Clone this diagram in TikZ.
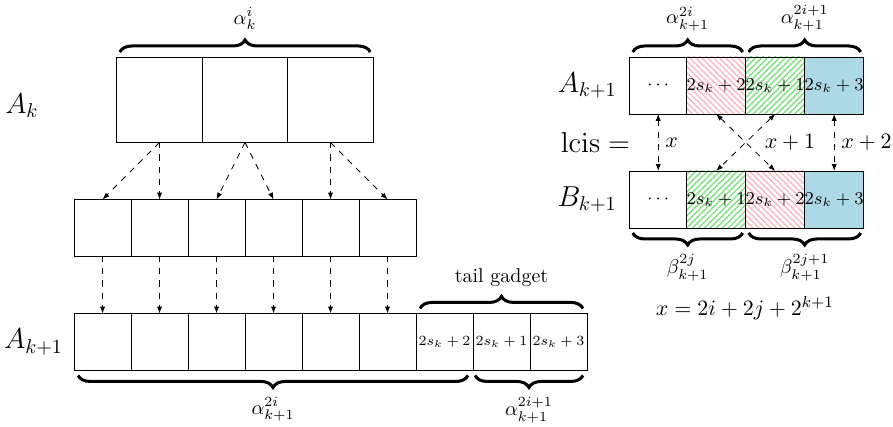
\documentclass[tikz,border=0pt]{standalone}
\usepackage{xcolor}
\usepackage{tikz}
\usetikzlibrary{arrows.meta,positioning,decorations.pathreplacing,patterns.meta}
\definecolor{hatchpink}{HTML}{FFB6C1}
\definecolor{hatchgreen}{HTML}{7CE27C}
\definecolor{cellblue}{HTML}{ADD8E6}
\tikzset{
  cell/.style={rectangle,draw,minimum width=1cm,minimum height=1cm,inner sep=0pt,outer sep=0pt,font=\small},
  bigcell/.style={cell,minimum width=1.5cm,minimum height=1.5cm},
  tailcell/.style={cell,font=\scriptsize},
  pinkcell/.style={cell,pattern={Lines[angle=-45,distance=2.1pt,line width=0.7pt]},pattern color=hatchpink},
  greencell/.style={cell,pattern={Lines[angle=45,distance=2.1pt,line width=0.7pt]},pattern color=hatchgreen},
  bluecell/.style={cell,fill=cellblue},
  darrow/.style={-{Latex[length=1.2mm]},dashed},
  biarrow/.style={{Latex[length=1.2mm]}-{Latex[length=1.2mm]},dashed},
  topbrace/.style={decorate,decoration={brace,amplitude=6pt,raise=2.5pt},line width=1.5pt},
  botbrace/.style={decorate,decoration={brace,mirror,amplitude=6pt,raise=2.5pt},line width=1.5pt},
  rowlabel/.style={font=\Large},
  edgelabel/.style={font=\fontsize{11}{13}\selectfont}
}

\begin{document}
\begin{tikzpicture}
  \useasboundingbox (0,0) rectangle (15.67,-7.49);
  % left part: A_k expanded into A_{k+1}
  \foreach \i in {1,2,3}
    \node[bigcell] (t\i) at ({1.3+1.5*\i},-1.75) {};
  \foreach \i in {1,...,6}
    \node[cell] (m\i) at ({0.8+\i},-4) {};
  \foreach \i in {1,...,6}
    \node[cell] (b\i) at ({0.8+\i},-6) {};
  \node[tailcell, right=0pt of b6] (b7) {$2s_k+2$};
  \node[tailcell, right=0pt of b7] (b8) {$2s_k+1$};
  \node[tailcell, right=0pt of b8] (b9) {$2s_k+3$};
  \node[rowlabel, left=1.25cm of t1, yshift=-3pt] (lak) {$A_k$};
  \node[rowlabel, left=2pt of b1] (lakk) {$A_{k+1}$};
  \foreach \s/\e in {1/1,1/2,2/3,2/4,3/5,3/6}
    \draw[darrow] (t\s.south) -- (m\e.north);
  \foreach \i in {1,...,6}
    \draw[darrow] (m\i.south) -- (b\i.north);
  \draw[topbrace] ([xshift=1.5pt]t1.north west) -- ([xshift=-1.5pt]t3.north east)
    node[midway, above=9.5pt] {$\alpha_k^i$};
  \draw[topbrace] ([xshift=2pt]b7.north west) -- ([xshift=-2pt]b9.north east)
    node[midway, above=9.5pt] {tail gadget};
  \draw[botbrace] ([xshift=2pt]b1.south west) -- ([xshift=-2.5pt]b7.south east)
    node[midway, below=9.5pt] {$\alpha_{k+1}^{2i}$};
  \draw[botbrace] ([xshift=1pt]b8.south west) -- ([xshift=-2pt]b9.south east)
    node[midway, below=9.5pt] {$\alpha_{k+1}^{2i+1}$};
  % right part: lcis of A_{k+1} and B_{k+1}
  \node[cell] (ra1) at (11.55,-1.5) {$\cdots$};
  \node[pinkcell, right=0pt of ra1] (ra2) {$2s_k+2$};
  \node[greencell, right=0pt of ra2] (ra3) {$2s_k+1$};
  \node[bluecell, right=0pt of ra3] (ra4) {$2s_k+3$};
  \node[cell] (rb1) at (11.55,-3.5) {$\cdots$};
  \node[greencell, right=0pt of rb1] (rb2) {$2s_k+1$};
  \node[pinkcell, right=0pt of rb2] (rb3) {$2s_k+2$};
  \node[bluecell, right=0pt of rb3] (rb4) {$2s_k+3$};
  \node[rowlabel, left=3pt of ra1] (lra) {$A_{k+1}$};
  \node[rowlabel, left=3pt of rb1] (lrb) {$B_{k+1}$};
  \node[rowlabel] (lcis) at (10.45,-2.5) {$\mathrm{lcis} =$};
  \draw[biarrow] (ra1.south) -- node[edgelabel, right] {$x$} (rb1.north);
  \draw[biarrow] (ra2.south) -- (rb3.north);
  \draw[biarrow] (ra3.south) -- node[edgelabel, right=6pt] {$x+1$} (rb2.north);
  \draw[biarrow] (ra4.south) -- node[edgelabel, right] {$x+2$} (rb4.north);
  \draw[topbrace] ([xshift=1.5pt]ra1.north west) -- ([xshift=-1.5pt]ra2.north east)
    node[midway, above=9pt] {$\alpha_{k+1}^{2i}$};
  \draw[topbrace] ([xshift=1.5pt]ra3.north west) -- ([xshift=-1.5pt]ra4.north east)
    node[midway, above=9pt] {$\alpha_{k+1}^{2i+1}$};
  \draw[botbrace] ([xshift=1.5pt]rb1.south west) -- ([xshift=-1.5pt]rb2.south east)
    node[midway, below=9pt] {$\beta_{k+1}^{2j}$};
  \draw[botbrace] ([xshift=1.5pt]rb3.south west) -- ([xshift=-1.5pt]rb4.south east)
    node[midway, below=9pt] {$\beta_{k+1}^{2j+1}$};
  \node[edgelabel] (eqx) at (13.07,-5.4) {$x = 2i+2j+2^{k+1}$};
\end{tikzpicture}
\end{document}
